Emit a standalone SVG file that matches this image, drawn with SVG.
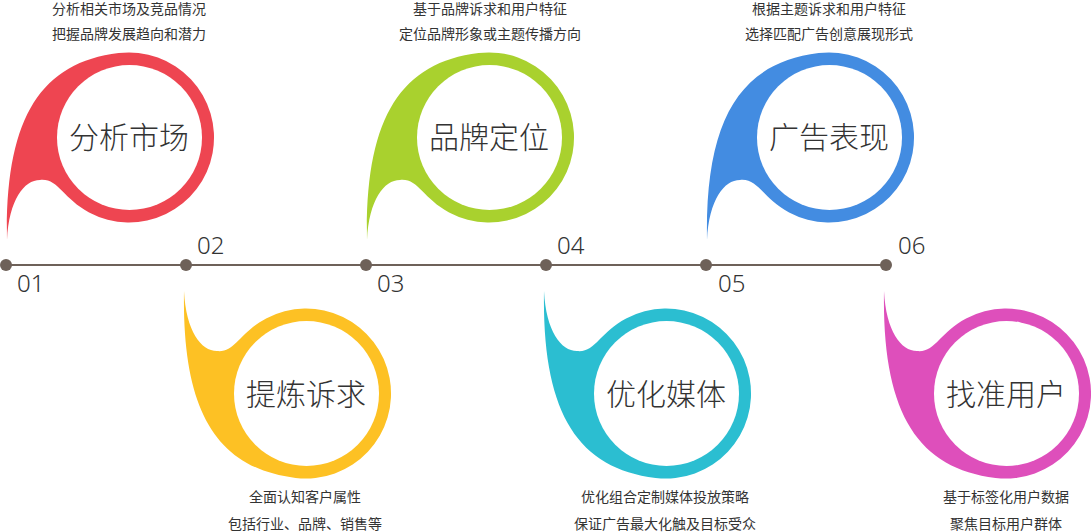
<svg xmlns="http://www.w3.org/2000/svg" xmlns:xlink="http://www.w3.org/1999/xlink" width="1091" height="532" viewBox="0 0 1091 532">
<style>
.title{font-family:"Noto Sans CJK SC","Noto Sans",sans-serif;font-size:30px;font-weight:300;fill:#333;text-anchor:middle}
.desc{font-family:"Noto Sans CJK SC","Noto Sans",sans-serif;font-size:14px;fill:#333;text-anchor:middle}
.num{font-family:"Noto Sans","Open Sans",sans-serif;font-size:24px;font-weight:300;fill:#333}
.line{stroke:#6e6159;stroke-width:2;fill:none}
.dot{fill:#6e6159}
</style>
<defs>
<path id="drop" d="M7 240 C5 120 39.4 62.7 118.6 53.1 A85 85 0 1 1 89.1 212.5 C62.6 198.4 58 178 40 180 C24 180 9 200 7 240 Z"/>
<circle id="hole" cx="129.5" cy="137.5" r="72.5" fill="#fff"/>
</defs>
<g id="connectors">
<line class="line" x1="6" y1="265" x2="886" y2="265"/>
<circle class="dot" cx="6" cy="265" r="6"/>
<circle class="dot" cx="186" cy="265" r="6"/>
<circle class="dot" cx="366" cy="265" r="6"/>
<circle class="dot" cx="546" cy="265" r="6"/>
<circle class="dot" cx="706" cy="265" r="6"/>
<circle class="dot" cx="886" cy="265" r="6"/>
</g>
<g id="node1">
<use xlink:href="#drop" href="#drop" fill="#ee4551"/>
<use xlink:href="#hole" href="#hole"/>
<text class="title" x="129" y="148">分析市场</text>
<text class="desc" x="129" y="14">分析相关市场及竞品情况</text>
<text class="desc" x="129" y="39">把握品牌发展趋向和潜力</text>
<text class="num" x="17" y="292">01</text>
</g>
<g id="node2">
<g transform="translate(177,531) scale(1,-1)">
<use xlink:href="#drop" href="#drop" fill="#fdc124"/>
<use xlink:href="#hole" href="#hole"/>
</g>
<text class="title" x="306" y="405">提炼诉求</text>
<text class="desc" x="305" y="502">全面认知客户属性</text>
<text class="desc" x="305" y="529">包括行业、品牌、销售等</text>
<text class="num" x="197" y="254">02</text>
</g>
<g id="node3">
<g transform="translate(360,0)">
<use xlink:href="#drop" href="#drop" fill="#a9d12e"/>
<use xlink:href="#hole" href="#hole"/>
</g>
<text class="title" x="489" y="148">品牌定位</text>
<text class="desc" x="490" y="14">基于品牌诉求和用户特征</text>
<text class="desc" x="490" y="39">定位品牌形象或主题传播方向</text>
<text class="num" x="377" y="292">03</text>
</g>
<g id="node4">
<g transform="translate(537,531) scale(1,-1)">
<use xlink:href="#drop" href="#drop" fill="#2bbed1"/>
<use xlink:href="#hole" href="#hole"/>
</g>
<text class="title" x="666" y="405">优化媒体</text>
<text class="desc" x="665" y="502">优化组合定制媒体投放策略</text>
<text class="desc" x="665" y="529">保证广告最大化触及目标受众</text>
<text class="num" x="557" y="254">04</text>
</g>
<g id="node5">
<g transform="translate(700,0)">
<use xlink:href="#drop" href="#drop" fill="#438ce1"/>
<use xlink:href="#hole" href="#hole"/>
</g>
<text class="title" x="829" y="148">广告表现</text>
<text class="desc" x="829" y="14">根据主题诉求和用户特征</text>
<text class="desc" x="829" y="39">选择匹配广告创意展现形式</text>
<text class="num" x="718" y="292">05</text>
</g>
<g id="node6">
<g transform="translate(877,531) scale(1,-1)">
<use xlink:href="#drop" href="#drop" fill="#de4fbb"/>
<use xlink:href="#hole" href="#hole"/>
</g>
<text class="title" x="1006" y="405">找准用户</text>
<text class="desc" x="1006" y="502">基于标签化用户数据</text>
<text class="desc" x="1006" y="529">聚焦目标用户群体</text>
<text class="num" x="898" y="254">06</text>
</g>
</svg>
